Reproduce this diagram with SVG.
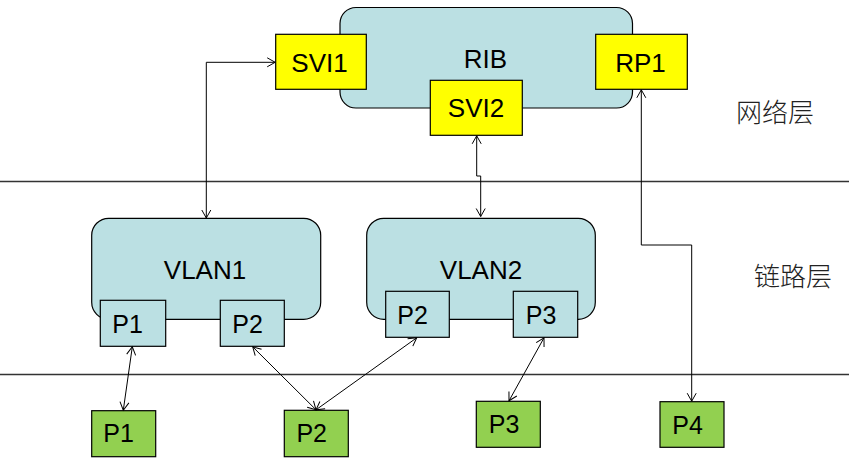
<svg xmlns="http://www.w3.org/2000/svg" width="849" height="458" viewBox="0 0 849 458">
<style>
.bg{fill:#ffffff}
.big{fill:#BBE0E3;stroke:#000;stroke-width:1.2}
.svi{fill:#FFFF00;stroke:#000;stroke-width:1.2}
.port{fill:#BBE0E3;stroke:#000;stroke-width:1.2}
.phy{fill:#92D050;stroke:#000;stroke-width:1.2}
.t{font-family:"Liberation Sans",Arial,sans-serif;fill:#000;text-anchor:middle}
.t26{font-size:26px}
.t25{font-size:25px}
.layer{font-family:"Noto Sans CJK SC",sans-serif;font-size:26px;fill:#222;font-weight:300}
.sep{stroke:#333;stroke-width:1.3;fill:none}
.conn{stroke:#000;stroke-width:1;fill:none;marker-start:url(#arr);marker-end:url(#arr)}
</style>
<defs>
<marker id="arr" markerUnits="userSpaceOnUse" markerWidth="12" markerHeight="12" viewBox="-10 -6 12 12" refX="0" refY="0" orient="auto-start-reverse">
<path d="M-8,-4.5 L0,0 L-8,4.5" fill="none" stroke="#000" stroke-width="1"/>
</marker>
</defs>
<rect class="bg" x="0" y="0" width="849" height="458"/>
<g id="layers">
<line class="sep" x1="0" y1="181.5" x2="849" y2="181.5"/>
<line class="sep" x1="0" y1="374.5" x2="849" y2="374.5"/>
<text class="layer" x="736" y="122">网络层</text>
<text class="layer" x="754" y="286">链路层</text>
</g>
<g id="RIB">
<rect class="big" x="340" y="7.5" width="292.5" height="100.5" rx="16"/>
<text class="t t26" x="485.5" y="68">RIB</text>
</g>
<g id="SVI1">
<rect class="svi" x="275.7" y="34.3" width="90.6" height="55"/>
<text class="t t26" x="319.5" y="72">SVI1</text>
</g>
<g id="RP1">
<rect class="svi" x="595.7" y="34.3" width="91.6" height="55"/>
<text class="t t26" x="640.5" y="72">RP1</text>
</g>
<g id="SVI2">
<rect class="svi" x="430.3" y="80.3" width="92" height="55"/>
<text class="t t26" x="476" y="117">SVI2</text>
</g>
<g id="VLAN1">
<rect class="big" x="91.7" y="218.3" width="229" height="101" rx="17"/>
<text class="t t26" x="205" y="279">VLAN1</text>
</g>
<g id="VLAN1-P1">
<rect class="port" x="100.3" y="300.3" width="65.4" height="46"/>
<text class="t t25" x="127.5" y="333">P1</text>
</g>
<g id="VLAN1-P2">
<rect class="port" x="220.3" y="300.3" width="64" height="46"/>
<text class="t t25" x="247.5" y="333">P2</text>
</g>
<g id="VLAN2">
<rect class="big" x="366.7" y="218.3" width="228.6" height="101" rx="17"/>
<text class="t t26" x="481" y="279">VLAN2</text>
</g>
<g id="VLAN2-P2">
<rect class="port" x="385.7" y="291.3" width="63.6" height="46"/>
<text class="t t25" x="412.5" y="323.5">P2</text>
</g>
<g id="VLAN2-P3">
<rect class="port" x="513.3" y="291.3" width="64.4" height="46"/>
<text class="t t25" x="541" y="323.5">P3</text>
</g>
<g id="Phy-P1">
<rect class="phy" x="91.7" y="410.7" width="64" height="46"/>
<text class="t t25" x="118.5" y="442">P1</text>
</g>
<g id="Phy-P2">
<rect class="phy" x="284.3" y="410.3" width="64" height="46.4"/>
<text class="t t25" x="311.7" y="442">P2</text>
</g>
<g id="Phy-P3">
<rect class="phy" x="476.3" y="401.3" width="64" height="46"/>
<text class="t t25" x="504" y="433">P3</text>
</g>
<g id="Phy-P4">
<rect class="phy" x="660" y="401.7" width="64" height="45.6"/>
<text class="t t25" x="687.5" y="433.5">P4</text>
</g>
<g id="connectors">
<path class="conn" d="M275.2,62.3 H206.3 V218"/>
<path class="conn" d="M476.7,135.8 V176 H480.7 V216.5"/>
<path class="conn" d="M641.3,89.8 V245 H691.7 V401.2"/>
<path class="conn" d="M132.3,346.8 L123.3,410.2"/>
<path class="conn" d="M252.7,346.8 L316,409.8"/>
<path class="conn" d="M416.7,337.8 L316,409.8"/>
<path class="conn" d="M544,337.8 L509,400.8"/>
</g>
</svg>
